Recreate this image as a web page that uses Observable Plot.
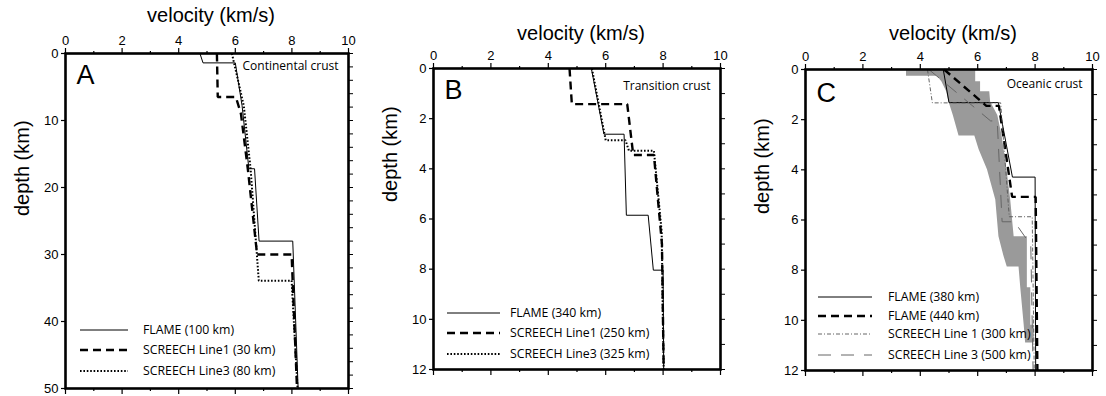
<!DOCTYPE html>
<html>
<head>
<meta charset="utf-8">
<script src="https://cdn.jsdelivr.net/npm/d3@7"></script>
<script src="https://cdn.jsdelivr.net/npm/@observablehq/plot@0.6"></script>
<style>
  html, body { margin: 0; padding: 0; background: #fff; }
  #wrap { position: relative; width: 1106px; height: 396px; background: #fff; overflow: hidden; }
  .legend { position: absolute; top: 0; left: 0; pointer-events: none; }
</style>
</head>
<body>
<div id="wrap"></div>
<script>
// ---------------- data ----------------
const velocityTicks = [0, 2, 4, 6, 8, 10];
const velocityMinor = [1, 3, 5, 7, 9];
const depthTicksA = [0, 10, 20, 30, 40, 50];
const depthTicksBC = [0, 2, 4, 6, 8, 10, 12];

// Panel A – continental crust
const aFlameV = [4.75, 4.86, 6.0, 6.24, 6.48, 6.68, 6.84, 8.03, 8.22];
const aFlameD = [0, 1.4, 1.4, 7.8, 17.2, 17.2, 28.0, 28.0, 50];
const aLine1V = [5.35, 5.38, 6.02, 6.2, 6.45, 6.77, 7.99, 8.18];
const aLine1D = [0, 6.5, 6.5, 9.0, 17.5, 30.0, 30.0, 50];
const aLine3V = [5.88, 6.15, 6.3, 6.54, 6.83, 7.99, 8.2];
const aLine3D = [0, 5.0, 7.8, 17.2, 33.9, 33.9, 50];

// Panel B – transition crust
const bFlameV = [5.5, 5.94, 6.64, 6.72, 7.48, 7.66, 8.0, 8.02];
const bFlameD = [0, 2.62, 2.62, 5.85, 5.85, 8.04, 8.04, 12];
const bLine1V = [4.74, 4.82, 6.75, 6.96, 7.68, 7.96, 8.02];
const bLine1D = [0, 1.42, 1.42, 3.45, 3.45, 7.0, 12];
const bLine3V = [5.52, 6.0, 6.69, 6.81, 7.68, 7.95, 8.02];
const bLine3D = [0, 2.86, 2.86, 3.28, 3.28, 6.5, 12];

// Panel C – oceanic crust
const cFlame380V = [4.8, 5.0, 6.72, 7.21, 8.0, 8.02];
const cFlame380D = [0, 1.32, 1.32, 4.29, 4.29, 12];
const cFlame440V = [4.83, 6.3, 6.74, 7.2, 8.02, 8.08];
const cFlame440D = [0, 1.45, 1.45, 5.08, 5.08, 12];
const cLine1V = [4.25, 4.42, 6.8, 7.1, 7.9, 7.97];
const cLine1D = [0, 1.33, 1.33, 5.87, 5.87, 12];
const cLine3V = [4.3, 6.45, 6.68, 6.85, 7.28, 7.85, 7.93];
const cLine3D = [0, 2.05, 2.05, 6.07, 6.07, 7.0, 12];

// Panel C – grey range envelope (depth, min velocity, max velocity)
const bandD  = [0, 0.27, 0.27, 0.49, 0.49, 0.89, 0.89, 1.30, 1.83, 2.65, 2.65, 3.20, 4.00, 5.20, 6.67, 6.67, 7.47, 7.87, 7.87, 8.70, 8.70, 10.2, 10.2, 10.9];
const bandLo = [3.52, 3.52, 4.59, 4.75, 4.75, 4.92, 4.92, 5.00, 5.15, 5.35, 5.90, 6.05, 6.34, 6.63, 6.74, 6.74, 6.92, 7.03, 7.44, 7.50, 7.50, 7.62, 7.62, 7.67];
const bandHi = [5.93, 5.93, 5.93, 5.93, 6.10, 6.10, 6.42, 6.45, 6.70, 6.85, 6.85, 6.92, 7.02, 7.15, 7.27, 7.73, 7.73, 7.73, 7.73, 7.73, 7.85, 7.85, 7.97, 7.97];

const legendA = ["FLAME (100 km)", "SCREECH Line1 (30 km)", "SCREECH Line3 (80 km)"];
const legendB = ["FLAME (340 km)", "SCREECH Line1 (250 km)", "SCREECH Line3 (325 km)"];
const legendC = ["FLAME (380 km)", "FLAME (440 km)", "SCREECH Line 1 (300 km)", "SCREECH Line 3 (500 km)"];

// ---------------- styles ----------------
const SOLID = {stroke: "#000", strokeWidth: 1};
const DASHED = {stroke: "#000", strokeWidth: 2.4, strokeDasharray: "8,5"};
const DOTTED = {stroke: "#000", strokeWidth: 2, strokeDasharray: "1.6,1.8"};
const DASHDOT = {stroke: "#555", strokeWidth: 0.9, strokeDasharray: "4,2,1,2"};
const LONGDASH = {stroke: "#666", strokeWidth: 1, strokeDasharray: "13,10"};

const SANS = "'Liberation Sans', Arial, Helvetica, sans-serif";
const NOTE = "'Open Sans', 'Noto Sans', sans-serif";

const rows = (vs, ds) => vs.map((v, i) => ({v, d: ds[i]}));

function panel(o) {
  const marks = [];
  if (o.band) {
    marks.push(Plot.areaX(o.band, {y: "d", x1: "lo", x2: "hi", fill: "#9a9a9a", curve: "linear"}));
  }
  for (const s of o.series) {
    marks.push(Plot.line(rows(s.v, s.d), {x: "v", y: "d", curve: "linear", strokeLinecap: "butt", strokeLinejoin: "miter", ...s.style}));
  }
  marks.push(
    Plot.frame({stroke: "#000", strokeWidth: 2.6}),
    Plot.axisX(velocityTicks, {anchor: "top", tickSize: 6, tickPadding: 3, fontSize: 13, strokeWidth: 1.2, label: null}),
    Plot.axisX(velocityMinor, {anchor: "top", tickSize: 3, tickFormat: () => "", strokeWidth: 1.2, label: null}),
    Plot.axisX(velocityTicks, {anchor: "bottom", tickSize: 6, tickFormat: () => "", strokeWidth: 1.2, label: null}),
    Plot.axisX(velocityMinor, {anchor: "bottom", tickSize: 3, tickFormat: () => "", strokeWidth: 1.2, label: null}),
    Plot.axisY(o.yTicks, {anchor: "left", tickSize: 4, tickPadding: 3, fontSize: 13, strokeWidth: 1.2, label: null}),
    Plot.axisY(o.rightTicks, {anchor: "right", tickSize: 4, tickFormat: () => "", strokeWidth: 1, label: null}),
    Plot.text(["velocity (km/s)"], {frameAnchor: "top", dx: 4, dy: o.titleDy, fontSize: 20, fontFamily: SANS, fill: "#000", lineAnchor: "middle"}),
    Plot.text(["depth (km)"], {frameAnchor: "left", rotate: -90, dx: -43, dy: o.ylabDy, fontSize: 20, fontFamily: SANS, fill: "#000", lineAnchor: "middle"}),
    Plot.text([o.letter], {frameAnchor: "top-left", textAnchor: "start", dx: 11, dy: o.letterDy, fontSize: 27, fontFamily: SANS, fill: "#000", lineAnchor: "middle"}),
    Plot.text([o.note], {frameAnchor: "top-right", textAnchor: "end", dx: -10, dy: o.noteDy, fontSize: 12, fontFamily: NOTE, fill: "#000", lineAnchor: "middle"})
  );
  const chart = Plot.plot({
    width: o.width, height: 396,
    marginLeft: o.ml, marginRight: o.mr, marginTop: o.mt, marginBottom: o.mb,
    x: {domain: [0, 10]},
    y: {domain: o.yDomain, reverse: true},
    style: {fontFamily: SANS, fontSize: "13px", color: "#000", background: "transparent", overflow: "visible"},
    marks
  });
  chart.style.position = "absolute";
  chart.style.left = o.left + "px";
  chart.style.top = "0px";
  return chart;
}

function legend(items, styles, lx0, lx1, tx, ys) {
  const svg = d3.create("svg").attr("class", "legend").attr("width", 1106).attr("height", 396);
  items.forEach((t, i) => {
    const s = styles[i];
    svg.append("line").attr("x1", lx0).attr("x2", lx1).attr("y1", ys[i]).attr("y2", ys[i])
      .attr("stroke", s.stroke).attr("stroke-width", s.strokeWidth)
      .attr("stroke-dasharray", s.strokeDasharray || null);
    svg.append("text").attr("x", tx).attr("y", ys[i]).attr("dy", "0.35em")
      .attr("font-family", NOTE).attr("font-size", 12.3).attr("fill", "#000").text(t);
  });
  return svg.node();
}

const wrap = document.getElementById("wrap");

wrap.appendChild(panel({
  left: 0, width: 370, ml: 65, mr: 22, mt: 53, mb: 8,
  yDomain: [0, 50], yTicks: depthTicksA, rightTicks: d3.range(0, 51, 2),
  series: [
    {v: aFlameV, d: aFlameD, style: SOLID},
    {v: aLine1V, d: aLine1D, style: DASHED},
    {v: aLine3V, d: aLine3D, style: DOTTED}
  ],
  letter: "A", letterDy: 22, note: "Continental crust", noteDy: 13,
  titleDy: -38, ylabDy: -5
}));

wrap.appendChild(panel({
  left: 370, width: 370, ml: 63, mr: 20, mt: 68, mb: 27,
  yDomain: [0, 12], yTicks: depthTicksBC, rightTicks: d3.range(0, 13, 1),
  series: [
    {v: bFlameV, d: bFlameD, style: SOLID},
    {v: bLine1V, d: bLine1D, style: DASHED},
    {v: bLine3V, d: bLine3D, style: DOTTED}
  ],
  letter: "B", letterDy: 22, note: "Transition crust", noteDy: 18,
  titleDy: -35, ylabDy: -17
}));

wrap.appendChild(panel({
  left: 740, width: 366, ml: 65, mr: 14, mt: 69, mb: 26,
  yDomain: [0, 12], yTicks: depthTicksBC, rightTicks: d3.range(0, 13, 1),
  band: bandD.map((d, i) => ({d, lo: bandLo[i], hi: bandHi[i]})),
  series: [
    {v: cFlame380V, d: cFlame380D, style: SOLID},
    {v: cFlame440V, d: cFlame440D, style: DASHED},
    {v: cLine1V, d: cLine1D, style: DASHDOT},
    {v: cLine3V, d: cLine3D, style: LONGDASH}
  ],
  letter: "C", letterDy: 24, note: "Oceanic crust", noteDy: 15,
  titleDy: -36, ylabDy: -6
}));

wrap.appendChild(legend(legendA, [SOLID, DASHED, DOTTED], 80, 128, 143, [330, 350, 371]));
wrap.appendChild(legend(legendB, [SOLID, DASHED, DOTTED], 447, 500, 510, [313, 333, 354]));
wrap.appendChild(legend(legendC, [SOLID, DASHED, DASHDOT, LONGDASH], 818, 872, 888, [297, 316, 334, 355]));
</script>
</body>
</html>
